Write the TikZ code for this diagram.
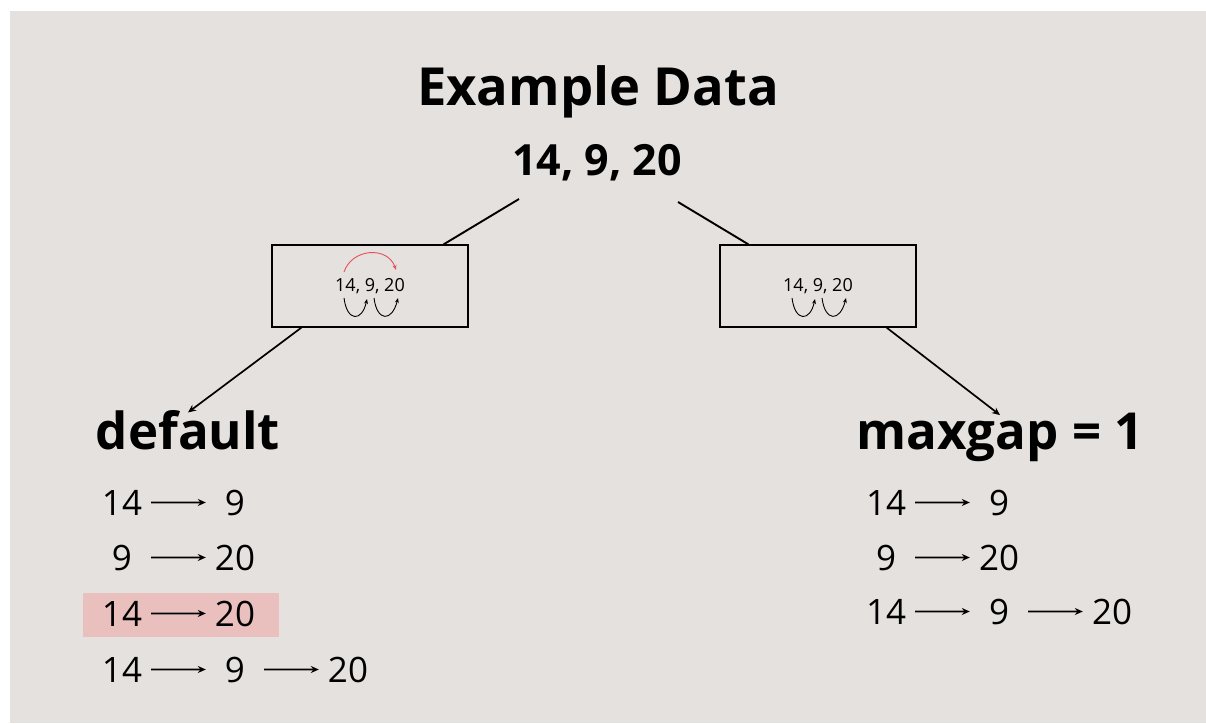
\documentclass[tikz,border=0pt]{standalone}
\usepackage{fontspec}
\setmainfont{Open Sans}
\usetikzlibrary{arrows.meta}
\definecolor{paper}{RGB}{229,225,222}
\definecolor{hilite}{RGB}{233,192,190}
\definecolor{hop}{RGB}{230,80,90}
\tikzset{
  heading/.style={font=\fontsize{52.5}{60}\selectfont\bfseries, anchor=base},
  branch/.style={font=\fontsize{51}{58}\selectfont\bfseries, anchor=base},
  num/.style={font=\fontsize{35}{40}\selectfont, anchor=base, inner sep=0pt, minimum width=58pt},
  seq/.style={-{Stealth[length=8pt,width=7pt]}, line width=1.7pt},
  edge/.style={line width=1.9pt},
  gapbox/.style={draw, line width=1.4pt, minimum width=196pt, minimum height=82pt, inner sep=0pt,
    font=\fontsize{18}{20}\selectfont},
  hopline/.style={-{Stealth[length=5pt,width=4pt]}, line width=0.9pt},
}
\begin{document}
\begin{tikzpicture}[x=1pt, y=-1pt]
\useasboundingbox (0,0) rectangle (1206,723);
\fill[paper] (10,11) rectangle (1206,723);

\node[heading] (title) at (598,105) {Example Data};
\node[font=\fontsize{43}{48}\selectfont\bfseries, anchor=base] (data) at (597,175) {14, 9, 20};

% the two ways of hopping
\node[gapbox] (lbox) at (370,286) {14, 9, 20};
\node[gapbox] (rbox) at (818,286) {14, 9, 20};
\draw[hopline] ([shift={(-26,12)}]lbox.center) .. controls ([shift={(-23,36)}]lbox.center) and ([shift={(-8,36)}]lbox.center) .. ([shift={(-3,13)}]lbox.center);
\draw[hopline] ([shift={(4,12)}]lbox.center) .. controls ([shift={(7,36)}]lbox.center) and ([shift={(22,36)}]lbox.center) .. ([shift={(28,12)}]lbox.center);
\draw[hopline, hop] ([shift={(-26,-14)}]lbox.center) .. controls ([shift={(-18,-38)}]lbox.center) and ([shift={(18,-40)}]lbox.center) .. ([shift={(26,-16)}]lbox.center);
\draw[hopline] ([shift={(-26,12)}]rbox.center) .. controls ([shift={(-23,36)}]rbox.center) and ([shift={(-8,36)}]rbox.center) .. ([shift={(-3,13)}]rbox.center);
\draw[hopline] ([shift={(4,12)}]rbox.center) .. controls ([shift={(7,36)}]rbox.center) and ([shift={(22,36)}]rbox.center) .. ([shift={(28,12)}]rbox.center);

\node[branch] (dflt) at (188,449) {default};
\node[branch] (maxgap) at (1000,449) {maxgap = 1};

\coordinate (lfork) at (519,199);
\coordinate (rfork) at (678,202);
\draw[edge] (lfork) -- ([xshift=-25pt]lbox.north east);
\draw[edge] (rfork) -- ([xshift=29pt]rbox.north west);
\draw[seq] ([xshift=30pt]lbox.south west) -- ([yshift=-6pt]dflt.north);
\draw[seq] ([xshift=-30pt]rbox.south east) -- ([yshift=-6pt]maxgap.north);

% default: every pair, plus the skip
\fill[hilite] (83,593) rectangle (279,637);
\node[num] (d11) at (122,515) {14};
\node[num] (d12) at (235,515) {9};
\node[num] (d21) at (122,570) {9};
\node[num] (d22) at (235,570) {20};
\node[num] (d31) at (122,626) {14};
\node[num] (d32) at (235,626) {20};
\node[num] (d41) at (122,682) {14};
\node[num] (d42) at (235,682) {9};
\node[num] (d43) at (348,682) {20};
\draw[seq] (d11) -- (d12);
\draw[seq] (d21) -- (d22);
\draw[seq] (d31) -- (d32);
\draw[seq] (d41) -- (d42);
\draw[seq] (d42) -- (d43);

% maxgap = 1: neighbours only
\node[num] (m11) at (886,515) {14};
\node[num] (m12) at (999,515) {9};
\node[num] (m21) at (886,570) {9};
\node[num] (m22) at (999,570) {20};
\node[num] (m31) at (886,624) {14};
\node[num] (m32) at (999,624) {9};
\node[num] (m33) at (1112,624) {20};
\draw[seq] (m11) -- (m12);
\draw[seq] (m21) -- (m22);
\draw[seq] (m31) -- (m32);
\draw[seq] (m32) -- (m33);
\end{tikzpicture}
\end{document}
